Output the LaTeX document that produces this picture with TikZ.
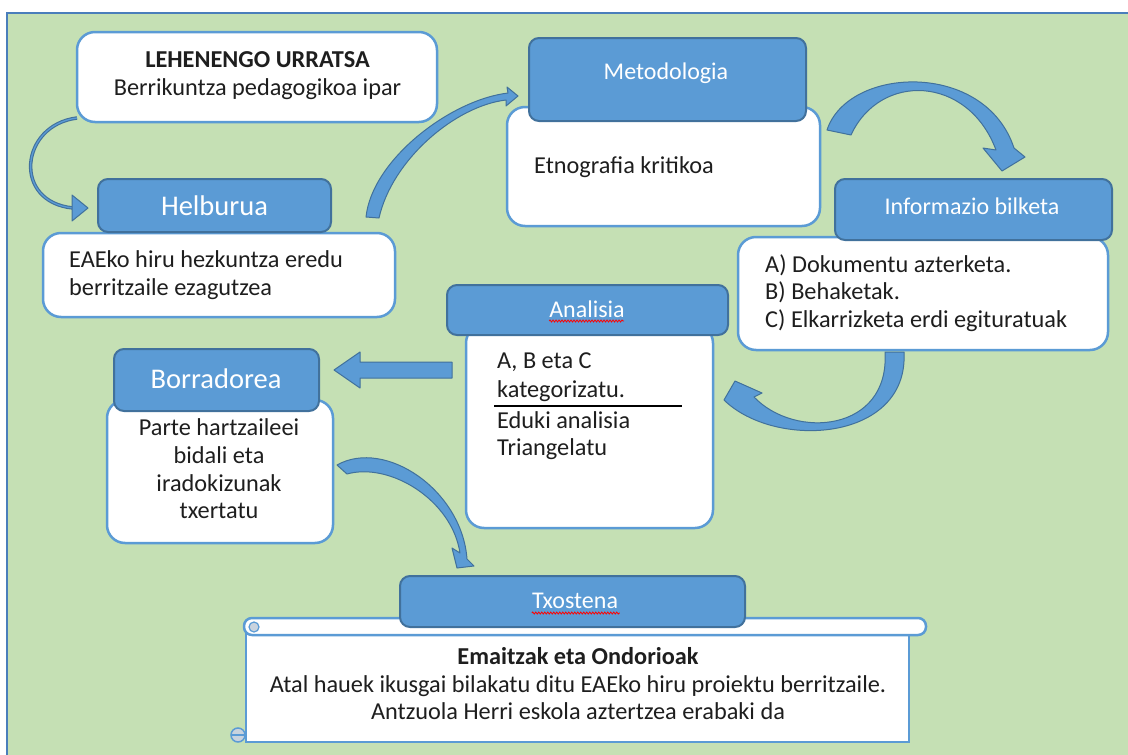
\documentclass[tikz,border=0pt]{standalone}
\usepackage{fontspec}
\setmainfont{Carlito}
\usetikzlibrary{decorations.pathmorphing}
\definecolor{bg}{HTML}{C5E0B4}
\definecolor{frame}{HTML}{4A7EBB}
\definecolor{hdr}{HTML}{5B9BD5}
\definecolor{hdrdark}{HTML}{41719C}
\definecolor{boxline}{HTML}{5B9BD5}
\definecolor{txt}{HTML}{1E1E1E}
\definecolor{curl}{HTML}{C9D3DE}
\begin{document}
\begin{tikzpicture}[x=1pt,y=-1pt,
  whitebox/.style={draw=boxline, line width=2.5pt, fill=white, rounded corners=18pt, inner sep=0pt},
  header/.style={draw=hdrdark, line width=2pt, fill=hdr, rounded corners=10pt, inner sep=0pt},
  body/.style={font=\fontsize{24.3}{28}\selectfont, text=txt, inner sep=0pt},
  hdrtext/.style={font=\fontsize{24}{28}\selectfont, text=white, inner sep=0pt, anchor=base},
  bighdr/.style={font=\fontsize{28.5}{32}\selectfont, text=white, inner sep=0pt, anchor=base},
  arrowfill/.style={fill=hdr, draw=hdrdark, line width=1pt, line join=round},
  spell/.style={draw=red, line width=0.8pt, decorate, decoration={snake, amplitude=1pt, segment length=3pt}}
]
\path[use as bounding box] (0,0) rectangle (1128,755);
\clip (0,0) rectangle (1128,755);
\fill[white] (0,0) rectangle (1128,755);
\fill[bg] (7,13) rectangle (1140,770);
\draw[frame, line width=2.5pt] (1140,13) -- (7,13) -- (7,770);

% LEHENENGO URRATSA
\node[whitebox, minimum width=360pt, minimum height=90pt] (lehen) at (257,77) {};
\node[body, anchor=base] (lehenA) at (257.5,67) {\textbf{LEHENENGO URRATSA}};
\node[body, anchor=base] (lehenB) at (257.5,95) {Berrikuntza pedagogikoa ipar};

% Helburua
\node[whitebox, minimum width=352pt, minimum height=84pt] (helbB) at (219,275) {};
\node[header, minimum width=233pt, minimum height=53pt] (helbH) at (214.5,205.5) {};
\node[bighdr] (helbT) at (214.5,215) {Helburua};
\node[body, anchor=base west] (helb1) at (69,267) {EAEko hiru hezkuntza eredu};
\node[body, anchor=base west] (helb2) at (69,295) {berritzaile ezagutzea};

% Metodologia
\node[whitebox, minimum width=313pt, minimum height=119pt] (metoB) at (663.5,166.5) {};
\node[header, minimum width=277pt, minimum height=83pt] (metoH) at (667.5,79.5) {};
\node[hdrtext] (metoT) at (666,79) {Metodologia};
\node[body, anchor=base west] (meto1) at (534,173) {Etnografia kritikoa};

% Informazio bilketa
\node[whitebox, minimum width=370pt, minimum height=113pt] (infoB) at (923,293.5) {};
\node[header, minimum width=277pt, minimum height=61pt] (infoH) at (973.5,209.5) {};
\node[hdrtext] (infoT) at (972,214) {Informazio bilketa};
\node[body, anchor=base west] (info1) at (765,272) {A) Dokumentu azterketa.};
\node[body, anchor=base west] (info2) at (765,299) {B) Behaketak.};
\node[body, anchor=base west] (info3) at (765,327) {C) Elkarrizketa erdi egituratuak};

% Analisia
\node[whitebox, minimum width=247pt, minimum height=203pt] (anaB) at (589.5,426.5) {};
\node[header, minimum width=281pt, minimum height=50pt] (anaH) at (587.5,310) {};
\node[hdrtext] (anaT) at (587,317) {Analisia};
\draw[spell] (anaT.base west) ++(0,4) -- ++(75,0);
\node[body, anchor=base west] (ana1) at (497,368) {A, B eta C};
\node[body, anchor=base west] (ana2) at (497,397) {kategorizatu.};
\draw[line width=1.3pt, black] (494,406) -- (682,406);
\node[body, anchor=base west] (ana3) at (497,428) {Eduki analisia};
\node[body, anchor=base west] (ana4) at (497,455) {Triangelatu};

% Borradorea
\node[whitebox, minimum width=226pt, minimum height=143pt] (borB) at (220,471.5) {};
\node[header, minimum width=205pt, minimum height=62pt] (borH) at (216.5,380) {};
\node[bighdr] (borT) at (216,388) {Borradorea};
\node[body, anchor=base] (bor1) at (219,435) {Parte hartzaileei};
\node[body, anchor=base] (bor2) at (219,463) {bidali eta};
\node[body, anchor=base] (bor3) at (219,491) {iradokizunak};
\node[body, anchor=base] (bor4) at (219,518) {txertatu};

% Txostena scroll
\draw[draw=boxline, line width=2.5pt, fill=white] (246,626) rectangle (909,742);
\node[draw=boxline, line width=2.5pt, fill=white, rounded corners=8pt, minimum width=682pt, minimum height=17pt, inner sep=0pt] (roll) at (585,626.5) {};
\draw[draw=boxline, line width=1.2pt, fill=curl] (254,627) circle (5pt);
\draw[draw=boxline, line width=1.5pt, fill=curl] (238,735) circle (7pt);
\draw[draw=boxline, line width=1.2pt] (231,735) -- (246,735);
\node[header, minimum width=345pt, minimum height=51pt] (txoH) at (572.5,601.5) {};
\node[hdrtext] (txoT) at (575,608) {Txostena};
\draw[spell] (txoT.base west) ++(0,5) -- ++(88,0);
\node[body, anchor=base] (txo1) at (578,664) {\textbf{Emaitzak eta Ondorioak}};
\node[body, anchor=base] (txo2) at (578,692) {Atal hauek ikusgai bilakatu ditu EAEko hiru proiektu berritzaile.};
\node[body, anchor=base] (txo3) at (578,719) {Antzuola Herri eskola aztertzea erabaki da};

% Arrows
% LEHENENGO -> Helburua
\draw[hdrdark, line width=3.5pt] (77,118) .. controls (20,125) and (12,202) .. (73,208);
\draw[hdr, line width=1.3pt] (77,118) .. controls (20,125) and (12,202) .. (73,208);
\filldraw[arrowfill] (72,195) -- (88,208) -- (72,221) -- cycle;

% Helburua -> Metodologia
\filldraw[arrowfill] (366,217) .. controls (372,160) and (450,100) .. (508,93) -- (507,87) -- (518,96) -- (506,106) -- (506,100) .. controls (455,106) and (392,160) .. (379,218) -- cycle;

% Metodologia -> Informazio bilketa
\filldraw[arrowfill] (827,130) .. controls (848,66) and (985,60) .. (1014,148) -- (1025,157) -- (1002,171) -- (983,148) -- (996,150) .. controls (968,75) and (880,72) .. (851,135) -- cycle;

% Informazio bilketa -> Analisia
\filldraw[arrowfill] (904,352) .. controls (909,442) and (775,450) .. (724,400) -- (735,381) -- (762,393) -- (754,397) .. controls (795,440) and (890,432) .. (885,352) -- cycle;

% Analisia -> Borradorea
\filldraw[arrowfill] (452,362) -- (360,362) -- (360,352) -- (334,370) -- (360,388) -- (360,378) -- (452,378) -- cycle;

% Borradorea -> Txostena
\filldraw[arrowfill] (337,465) .. controls (385,438) and (462,490) .. (467,559) -- (474,566) -- (457,568) -- (452,548) -- (460,553) .. controls (452,500) and (390,462) .. (347,474) -- cycle;
\end{tikzpicture}
\end{document}
